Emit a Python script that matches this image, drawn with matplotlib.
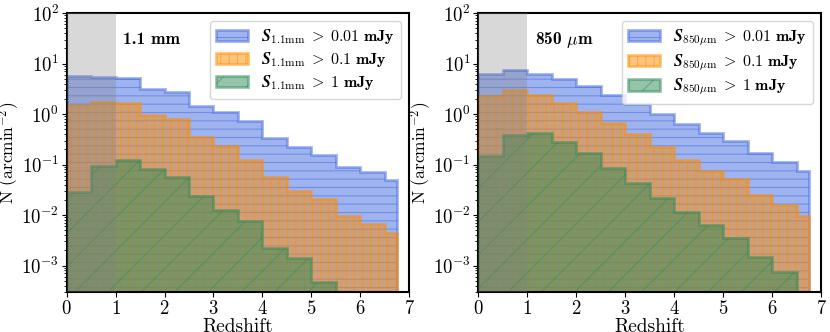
import numpy as np
import matplotlib
matplotlib.use("Agg")
import matplotlib.pyplot as plt
from matplotlib import ticker

# computer modern look
plt.rcParams['font.family'] = 'serif'
plt.rcParams['font.serif'] = ['cmr10']
plt.rcParams['mathtext.fontset'] = 'cm'
plt.rcParams['axes.formatter.use_mathtext'] = True
plt.rcParams['hatch.linewidth'] = 0.8

# redshift bin edges (last bin is narrower)
z_edges = [0, 0.5, 1.0, 1.5, 2.0, 2.5, 3.0, 3.5, 4.0, 4.5, 5.0, 5.5, 6.0, 6.5, 6.75]

# 1.1 mm number counts, N (arcmin^-2)
n11_001 = [5.7, 5.4, 5.2, 3.16, 2.8, 1.47, 1.08, 0.72, 0.33, 0.225, 0.154, 0.09, 0.072, 0.049]
n11_01 = [1.51, 1.77, 1.66, 0.98, 0.79, 0.35, 0.23, 0.126, 0.056, 0.030, 0.0206, 0.0095, 0.0068, 0.0045]
n11_1 = [0.029, 0.095, 0.126, 0.082, 0.056, 0.0236, 0.0124, 0.0076, 0.0022, 0.0014, 0.00048]

# 850 um number counts
n850_001 = [6.1, 7.6, 6.3, 5.0, 3.57, 2.44, 1.58, 1.0, 0.64, 0.43, 0.29, 0.17, 0.113, 0.075]
n850_01 = [2.26, 2.97, 2.44, 1.66, 1.08, 0.66, 0.40, 0.225, 0.126, 0.075, 0.052, 0.025, 0.0158, 0.0097]
n850_1 = [0.147, 0.386, 0.417, 0.284, 0.166, 0.086, 0.043, 0.0222, 0.0113, 0.0063, 0.0036, 0.00147, 0.00074]

cuts = ['0.01', '0.1', '1']
colors = ['royalblue', 'darkorange', 'seagreen']
hatches = ['--', '||', '/']


def decade_label(v, pos):
    return r'$\mathrm{10^{%d}}$' % int(round(np.log10(v)))


def panel(ax, series, sub, title):
    for vals, cut, c, h in zip(series, cuts, colors, hatches):
        edges = z_edges[:len(vals) + 1]
        ax.stairs(vals, edges, fill=True, baseline=1e-6, color=c, alpha=0.5,
                  hatch=h, edgecolor=c, lw=2,
                  label=r'$\boldsymbol{S}_{\mathrm{' + sub + r'}}\;>\;\mathbf{' + cut + r'\ mJy}$')
    ax.axvspan(0, 1, color='gray', alpha=0.3, lw=0, zorder=5)
    ax.set_yscale('log')
    ax.set_xlim(0, 7)
    ax.set_ylim(3e-4, 1e2)
    ax.set_xticks(range(8))
    ax.yaxis.set_major_locator(ticker.LogLocator(base=10, numticks=10))
    ax.yaxis.set_major_formatter(ticker.FuncFormatter(decade_label))
    ax.yaxis.set_minor_formatter(ticker.NullFormatter())
    ax.set_xlabel('Redshift', fontsize=14, labelpad=0)
    ax.set_ylabel(r'N (arcmin$^{-2}$)', fontsize=12.5)
    ax.yaxis.set_label_coords(-0.133, 0.5)
    ax.tick_params(labelsize=13.5, pad=2)
    ax.tick_params(which='minor', length=2)
    for s in ax.spines.values():
        s.set_linewidth(1.5)
    ax.text(0.165, 0.905, title, transform=ax.transAxes, fontsize=12.5,
            fontfamily='cmb10', va='center', zorder=6)
    ax.legend(loc='upper right', fontsize=11.5, handlelength=2.0, borderaxespad=0.5,
              labelspacing=0.25)


fig = plt.figure(figsize=(8.3, 3.32), dpi=100)
ax1 = fig.add_axes([0.0804, 0.1205, 0.4124, 0.84])
ax2 = fig.add_axes([0.5763, 0.1205, 0.413, 0.84])

panel(ax1, [n11_001, n11_01, n11_1], '1.1mm', '1.1 mm')
panel(ax2, [n850_001, n850_01, n850_1], r'850\mu m', r'850 $\mathbf{\mu}$m')

fig.savefig('out.png', dpi=100)
